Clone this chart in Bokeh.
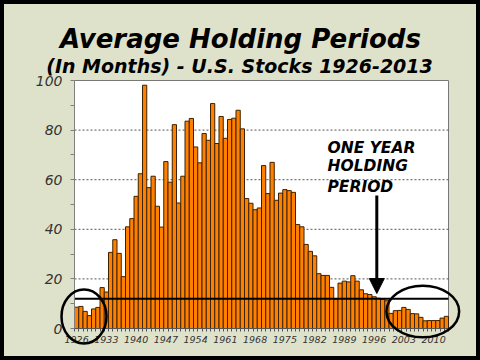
from bokeh.plotting import figure
from bokeh.models import (ColumnDataSource, FixedTicker, Label, Arrow,
                          NormalHead, BoxAnnotation)
from bokeh.embed import file_html
from bokeh.resources import INLINE

# ---------------- data ----------------
years = list(range(1926, 2014))
months = [8.6, 8.9, 6.9, 5.2, 7.9, 8.5, 16.5, 14.7, 30.7, 35.8,
          30.3, 20.9, 41.0, 44.3, 53.3, 62.4, 98.1, 56.8, 61.4, 49.3,
          40.9, 67.3, 59.0, 82.2, 50.6, 61.4, 83.6, 84.7, 73.2, 66.8,
          78.6, 75.9, 90.7, 74.6, 85.5, 76.7, 84.3, 84.8, 88.0, 80.5,
          52.4, 50.5, 47.9, 48.6, 65.7, 54.4, 67.0, 51.7, 54.6, 56.0,
          55.6, 54.9, 41.9, 41.0, 33.9, 31.1, 29.3, 22.1, 21.4, 21.4,
          16.6, 11.8, 18.3, 19.1, 18.8, 21.3, 19.1, 15.6, 14.0, 13.7,
          12.8, 12.2, 11.8, 11.2, 6.1, 7.2, 7.3, 8.5, 7.7, 6.0,
          5.9, 4.5, 3.1, 3.2, 3.2, 3.2, 4.2, 4.9]
xtick_years = list(range(1926, 2011, 7))
ytick_vals = [0, 20, 40, 60, 80, 100]
yminor_vals = [10, 30, 50, 70, 90]
one_year_months = 12
title_text = "Average Holding Periods"
subtitle_text = "(In Months) - U.S. Stocks 1926-2013"
note_lines = ["ONE YEAR", "HOLDING", "PERIOD"]

# ---------------- layout (pixels) ----------------
W, H = 480, 360
PX_L, PX_R, PX_T, PX_B = 74, 448, 80, 328      # plot-area box
X0, X1 = years[0] - 0.5, years[-1] + 0.5
Y0, Y1 = ytick_vals[0], ytick_vals[-1]
SX = (PX_R - PX_L) / (X1 - X0)
SY = (PX_B - PX_T) / (Y1 - Y0)


def px2x(px):
    return X0 + (px - PX_L) / SX


def py2y(py):
    return Y0 + (PX_B - py) / SY


BG = "#DFE2CA"
p = figure(width=W, height=H,
           x_range=(px2x(0), px2x(W)), y_range=(py2y(H), py2y(0)),
           output_backend="svg", toolbar_location=None,
           min_border=0, background_fill_color=BG, border_fill_color=BG)
p.outline_line_color = "black"
p.outline_line_width = 7
p.xgrid.visible = False
p.ygrid.visible = False

# white plot area
p.add_layout(BoxAnnotation(left=X0, right=X1, bottom=Y0, top=Y1,
                           fill_color="white", fill_alpha=1,
                           line_color="#777777", line_alpha=1, line_width=1,
                           level="underlay"))

# dotted grid lines
grid_vals = ytick_vals[1:-1]
p.segment(x0=[X0] * len(grid_vals), x1=[X1] * len(grid_vals),
          y0=grid_vals, y1=grid_vals, line_color="#555555",
          line_dash="2 2", line_width=1)

src = ColumnDataSource(dict(year=years, months=months))
p.vbar(x="year", top="months", width=1.0, source=src,
       fill_color="#FF8000", line_color="#3C2200", line_width=1)

# one-year line
p.segment(x0=[X0], x1=[X1], y0=[one_year_months], y1=[one_year_months],
          line_color="black", line_width=2)

# axes (drawn at the plot-area edges)
p.yaxis.fixed_location = X0
p.yaxis.bounds = (Y0, Y1)
p.yaxis.ticker = FixedTicker(ticks=ytick_vals, minor_ticks=yminor_vals)
p.yaxis.axis_line_color = "#808080"
p.yaxis.major_tick_line_color = "#808080"
p.yaxis.minor_tick_line_color = "#808080"
p.yaxis.major_tick_in = 0
p.yaxis.major_tick_out = 4
p.yaxis.minor_tick_in = 0
p.yaxis.minor_tick_out = 4
p.yaxis.major_label_standoff = 8
p.yaxis.major_label_text_font = "DejaVu Sans"
p.yaxis.major_label_text_font_style = "italic"
p.yaxis.major_label_text_font_size = "14px"
p.yaxis.major_label_text_color = "#333333"

boundaries = [y - 0.5 for y in years] + [years[-1] + 0.5]
p.xaxis.fixed_location = Y0
p.xaxis.bounds = (X0, X1)
p.xaxis.ticker = FixedTicker(ticks=xtick_years, minor_ticks=boundaries)
p.xaxis.axis_line_color = "#555555"
p.xaxis.major_tick_in = 0
p.xaxis.major_tick_out = 0
p.xaxis.minor_tick_in = 0
p.xaxis.minor_tick_out = 3
p.xaxis.minor_tick_line_color = "#555555"
p.xaxis.major_label_standoff = 4
p.xaxis.major_label_text_font = "DejaVu Sans"
p.xaxis.major_label_text_font_style = "italic"
p.xaxis.major_label_text_font_size = "9.5px"
p.xaxis.major_label_text_color = "#333333"

# arrow
p.add_layout(Arrow(x_start=px2x(376.3), y_start=py2y(195),
                   x_end=px2x(376.3), y_end=py2y(293),
                   line_width=3, line_color="black",
                   end=NormalHead(size=15, fill_color="black",
                                  line_color="black", line_width=1)))

# annotation text
for txt, by in zip(note_lines, [147.7, 165.5, 186.0]):
    p.add_layout(Label(x=px2x(327), y=py2y(by), text=txt, text_align="left",
                       text_baseline="alphabetic", text_font="DejaVu Sans",
                       text_font_style="bold italic", text_font_size="15.5px",
                       text_color="black"))

# titles
p.add_layout(Label(x=px2x(240), y=py2y(38), text=title_text,
                   text_align="center", text_baseline="alphabetic",
                   text_font="DejaVu Sans", text_font_style="bold italic",
                   text_font_size="26px", text_color="black"))
p.add_layout(Label(x=px2x(239), y=py2y(65.7), text=subtitle_text,
                   text_align="center", text_baseline="alphabetic",
                   text_font="DejaVu Sans", text_font_style="bold italic",
                   text_font_size="19px", text_color="black"))

# ellipses
ell_x = [px2x(83.5), px2x(422.3)]
ell_y = [py2y(316), py2y(311)]
ell_w = [45 / SX, 72.7 / SX]
ell_h = [54 / SY, 51.7 / SY]
p.ellipse(x=ell_x, y=ell_y, width=ell_w, height=ell_h, fill_alpha=0,
          line_color="black", line_width=2.5, level="overlay")

open("out.html", "w").write(file_html(p, INLINE))
